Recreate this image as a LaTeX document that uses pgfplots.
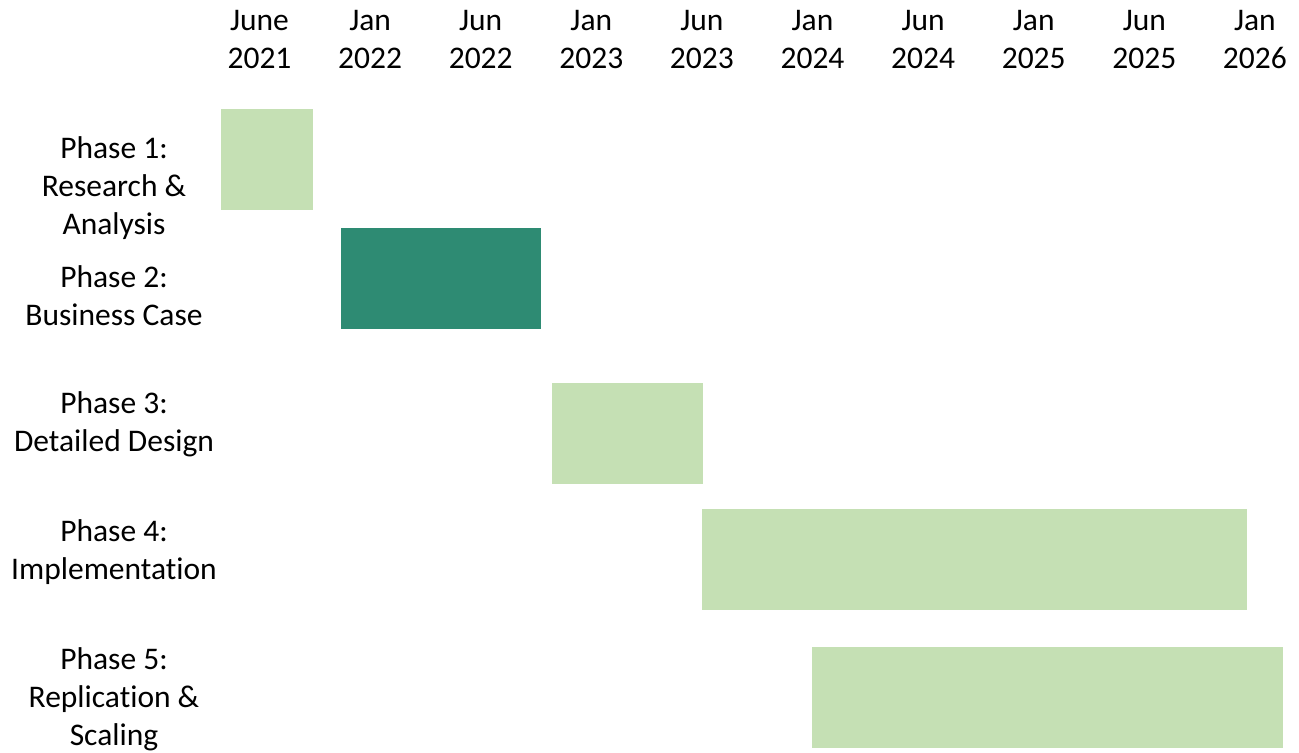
\documentclass[border=0pt]{standalone}
\usepackage{pgfplots}
\pgfplotsset{compat=1.18}
\usepackage{fontspec}
\setmainfont{Carlito}[Ligatures=NoCommon]
\definecolor{lightg}{HTML}{C5E0B4}
\definecolor{darkg}{HTML}{2E8B73}
\begin{document}
\begin{tikzpicture}
\begin{axis}[name=ax, scale only axis, width=649.5pt, height=376pt,
  xmin=-2.3463, xmax=9.3987, ymin=0, ymax=752, y dir=reverse,
  axis line style={draw=none}, tick style={draw=none}, major tick length=0pt,
  clip=false,
  xtick={0,1,2,3,4,5,6,7,8,9},
  xticklabels={{June\\2021},{Jan\\2022},{Jun\\2022},{Jan\\2023},{Jun\\2023},{Jan\\2024},{Jun\\2024},{Jan\\2025},{Jun\\2025},{Jan\\2026}},
  xticklabel pos=upper,
  xticklabel style={align=center, anchor=center, yshift=-19.5pt, font=\fontsize{15.75}{19}\selectfont},
  ytick={188,296,424,552,699.5},
  yticklabels={{Phase 1:\\Research \&\\Analysis},{Phase 2:\\Business Case},{Phase 3:\\Detailed Design},{Phase 4:\\Implementation},{Phase 5:\\Replication \&\\Scaling}},
  yticklabel style={align=center, anchor=center, xshift=57pt, font=\fontsize{15.75}{19}\selectfont},
]
% Phase 1
\addplot[fill=lightg, draw=none] coordinates {(-0.348,109) (0.484,109) (0.484,210) (-0.348,210)} -- cycle;
% Phase 2
\addplot[fill=darkg, draw=none] coordinates {(0.737,228) (2.545,228) (2.545,329) (0.737,329)} -- cycle;
% Phase 3
\addplot[fill=lightg, draw=none] coordinates {(2.645,383) (4.006,383) (4.006,484) (2.645,484)} -- cycle;
% Phase 4
\addplot[fill=lightg, draw=none] coordinates {(3.997,509) (8.928,509) (8.928,610) (3.997,610)} -- cycle;
% Phase 5
\addplot[fill=lightg, draw=none] coordinates {(4.995,647) (9.254,647) (9.254,748) (4.995,748)} -- cycle;
\end{axis}
\pgfresetboundingbox
\path[use as bounding box] (ax.south west) rectangle (ax.north east);
\end{tikzpicture}
\end{document}
